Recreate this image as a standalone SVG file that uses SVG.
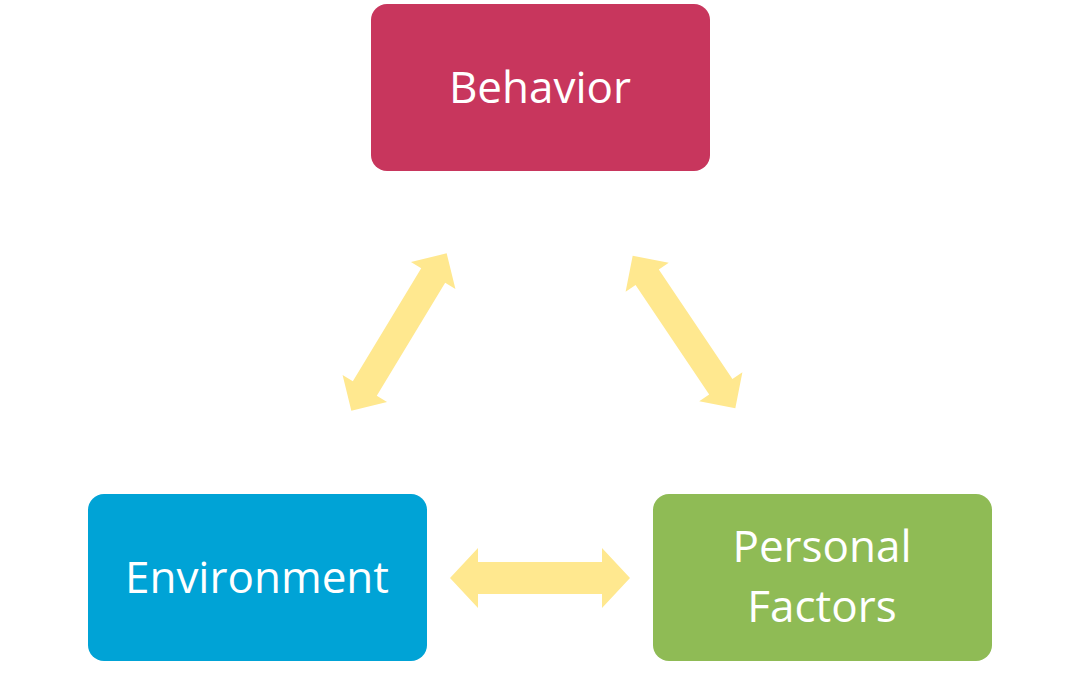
<svg xmlns="http://www.w3.org/2000/svg" width="1080" height="675" viewBox="0 0 1080 675">
<style>
.lbl{font-family:"Open Sans","Liberation Sans",sans-serif;font-size:44px;fill:#fff;text-anchor:middle}
.arr{fill:#FFE88F}
</style>
<defs>
<path id="da" d="M-90,0 L-62,-30 L-62,-16 L62,-16 L62,-30 L90,0 L62,30 L62,16 L-62,16 L-62,30 Z"/>
<path id="dd" d="M-92,0 L-66,-26 L-66,-14 L66,-14 L66,-26 L92,0 L66,26 L66,14 L-66,14 L-66,26 Z"/>
</defs>
<rect width="1080" height="675" fill="#fff"/>
<g id="connectors" class="arr">
<use href="#da" transform="translate(540,578)"/>
<use href="#dd" transform="translate(399,332) rotate(121.2)"/>
<use href="#dd" transform="translate(684,332) rotate(56.1)"/>
</g>
<g id="behavior">
<rect x="371" y="4" width="339" height="167" rx="16" fill="#C8365D"/>
<text class="lbl" x="540" y="103">Behavior</text>
</g>
<g id="environment">
<rect x="88" y="494" width="339" height="167" rx="16" fill="#00A3D6"/>
<text class="lbl" x="257" y="593">Environment</text>
</g>
<g id="personal">
<rect x="653" y="494" width="339" height="167" rx="16" fill="#8FBB55"/>
<text class="lbl" x="822" y="562">Personal</text>
<text class="lbl" x="822" y="622">Factors</text>
</g>
</svg>
